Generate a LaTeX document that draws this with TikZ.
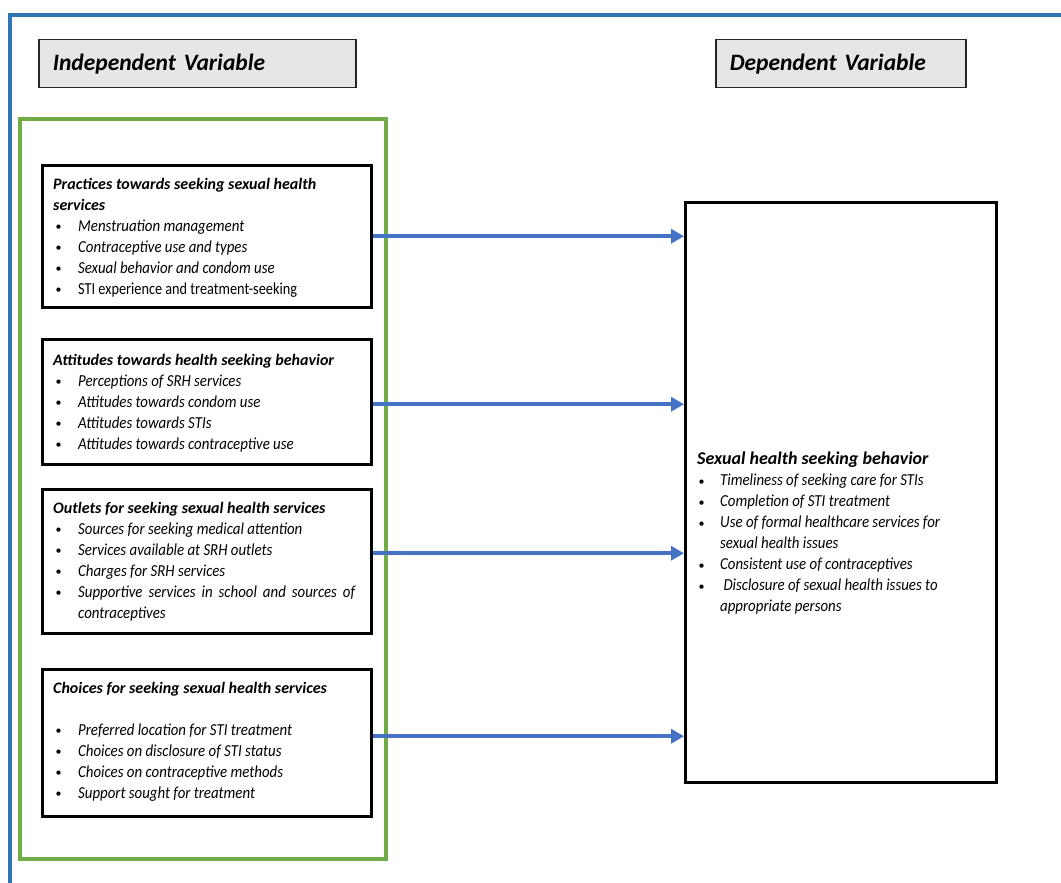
\documentclass[tikz,border=0pt]{standalone}
\usepackage{fontspec}
\setmainfont{Carlito}
\newfontfamily\itemfont[FakeStretch=0.885]{Carlito}
\newfontfamily\uprfont[FakeStretch=0.85]{Carlito}
\usetikzlibrary{arrows.meta}
\definecolor{frameblue}{RGB}{46,117,182}
\definecolor{arrowblue}{RGB}{68,114,196}
\definecolor{boxgreen}{RGB}{112,173,71}
\definecolor{titlegray}{RGB}{231,230,230}
\newcommand\smbul{\raisebox{0.5pt}{\scalebox{0.75}{\textbullet}}}
\newcommand\bitem[1]{\makebox[25pt][l]{\hspace{2.5pt}\smbul}#1}
\newcommand\bcont[1]{\hspace*{25pt}#1}
\newcommand\ritem[1]{\makebox[23pt][l]{\hspace{1.5pt}\smbul}#1}
\newcommand\rcont[1]{\hspace*{23pt}#1}
\newcommand\itx[1]{{\itemfont\fontsize{16.8}{21}\selectfont\itshape #1}}
\newcommand\upx[1]{{\uprfont\fontsize{16.8}{21}\selectfont #1}}
\begin{document}
\begin{tikzpicture}[x=1pt,y=-1pt,
  titlebox/.style={draw=black!85, line width=1.5pt, fill=titlegray, minimum height=48pt,
    inner xsep=14pt, align=left, anchor=north west, font=\fontsize{23.5}{26}\selectfont\bfseries\itshape},
  varbox/.style={draw=black, line width=2.5pt, minimum width=329pt, anchor=north west, inner sep=0pt},
  txt/.style={anchor=north west, inner sep=0pt, align=left, font=\fontsize{16}{21}\selectfont},
  arr/.style={draw=arrowblue, line width=4.2pt, -{Triangle[length=13pt,width=14pt]}}
]
\useasboundingbox (0,0) rectangle (1061,883);
% outer frame
\draw[frameblue, line width=4pt] (10,883) -- (10,15) -- (1061,15);
% titles
\node[titlebox, text width=289pt] (iv) at (38,39) {Independent Variable};
\node[titlebox, text width=222pt] (dvt) at (715,39) {Dependent Variable};
% green group
\node[draw=boxgreen, line width=4pt, minimum width=366pt, minimum height=740pt, anchor=north west, inner sep=0pt] (grp) at (18,117) {};
% variable boxes
\node[varbox, minimum height=142pt] (b1) at (41,164) {};
\node[varbox, minimum height=125pt] (b2) at (41,338) {};
\node[varbox, minimum height=144pt] (b3) at (41,488) {};
\node[varbox, minimum height=147pt] (b4) at (41,668) {};
\node[draw=black, line width=2.5pt, minimum width=311pt, minimum height=580pt, anchor=north west, inner sep=0pt] (dv) at (684,201) {};
% texts
\node[txt] (t1) at (53,178) {\textbf{\itshape Practices towards seeking sexual health}\\
\textbf{\itshape services}\\
\bitem{\itx{Menstruation management}}\\
\bitem{\itx{Contraceptive use and types}}\\
\bitem{\itx{Sexual behavior and condom use}}\\
\bitem{\upx{STI experience and treatment-seeking}}};
\node[txt] (t2) at (53,354) {\textbf{\itshape Attitudes towards health seeking behavior}\\
\bitem{\itx{Perceptions of SRH services}}\\
\bitem{\itx{Attitudes towards condom use}}\\
\bitem{\itx{Attitudes towards STIs}}\\
\bitem{\itx{Attitudes towards contraceptive use}}};
\node[txt] (t3) at (53,502) {\textbf{\itshape Outlets for seeking sexual health services}\\
\bitem{\itx{Sources for seeking medical attention}}\\
\bitem{\itx{Services available at SRH outlets}}\\
\bitem{\itx{Charges for SRH services}}\\
\bitem{\itx{\makebox[277pt][s]{Supportive services in school and sources of}}}\\
\bcont{\itx{contraceptives}}};
\node[txt] (t4) at (53,682) {\textbf{\itshape Choices for seeking sexual health services}\\[21pt]
\bitem{\itx{Preferred location for STI treatment}}\\
\bitem{\itx{Choices on disclosure of STI status}}\\
\bitem{\itx{Choices on contraceptive methods}}\\
\bitem{\itx{Support sought for treatment}}};
\node[txt] (t5) at (697,452) {{\fontsize{18}{21}\selectfont\bfseries\itshape Sexual health seeking behavior}\\
\ritem{\itx{Timeliness of seeking care for STIs}}\\
\ritem{\itx{Completion of STI treatment}}\\
\ritem{\itx{Use of formal healthcare services for}}\\
\rcont{\itx{sexual health issues}}\\
\ritem{\itx{Consistent use of contraceptives}}\\
\ritem{\itx{\ Disclosure of sexual health issues to}}\\
\rcont{\itx{appropriate persons}}};
% arrows
\path (b1.east) coordinate (a1);
\path (b2.east) ++(0,2.5) coordinate (a2);
\path (b3.east) ++(0,-8) coordinate (a3);
\path (b4.east) ++(0,-6.5) coordinate (a4);
\draw[arr] (a1) -- (a1 -| dv.west);
\draw[arr] (a2) -- (a2 -| dv.west);
\draw[arr] (a3) -- (a3 -| dv.west);
\draw[arr] (a4) -- (a4 -| dv.west);
\end{tikzpicture}
\end{document}
